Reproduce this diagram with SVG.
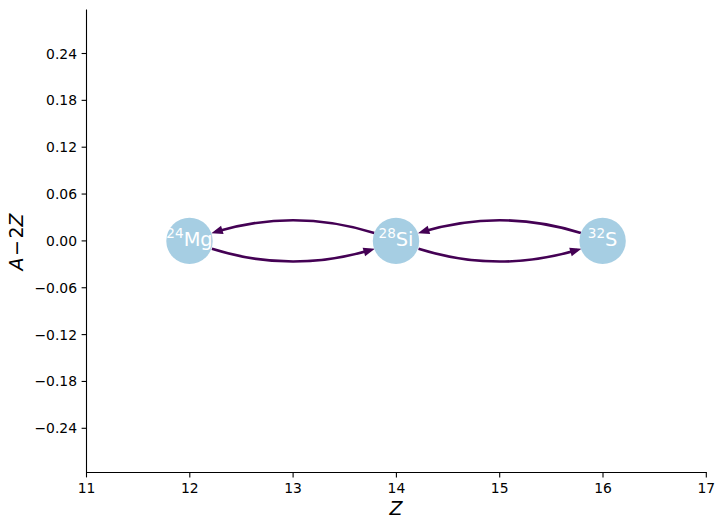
<svg xmlns="http://www.w3.org/2000/svg" width="724" height="529" viewBox="0 0 724 529">
<style>
  .spine { stroke: #000; stroke-width: 1.1; fill: none; stroke-linecap: square; }
  .tick { stroke: #000; stroke-width: 1.1; }
  .tl { font-family: "DejaVu Sans", sans-serif; font-size: 13.9px; fill: #000; }
  .ax { font-family: "DejaVu Sans", sans-serif; font-size: 19px; fill: #000; }
  .node circle { fill: #a6cee3; }
  .node text { font-family: "DejaVu Sans", sans-serif; font-size: 19.4px; fill: #fff; text-anchor: middle; }
  .node .sup { font-size: 13.6px; }
  .edge { fill: none; stroke: #440154; stroke-width: 2.6; marker-end: url(#head); }
</style>
<defs>
  <marker id="head" markerUnits="userSpaceOnUse" markerWidth="16" markerHeight="14" viewBox="-2 -7 16 14" refX="6" refY="0" orient="auto">
    <path d="M-1,-4.4 L10.5,0 L-1,4.4 Z" fill="#440154"/>
  </marker>
</defs>
<rect width="724" height="529" fill="#fff"/>

<g id="axes">
  <path class="spine" d="M86.5,10 V472.5 H706.3"/>
  <g id="xticks">
    <line class="tick" x1="86.5" y1="472.5" x2="86.5" y2="477.4"/>
    <line class="tick" x1="189.8" y1="472.5" x2="189.8" y2="477.4"/>
    <line class="tick" x1="293.1" y1="472.5" x2="293.1" y2="477.4"/>
    <line class="tick" x1="396.4" y1="472.5" x2="396.4" y2="477.4"/>
    <line class="tick" x1="499.7" y1="472.5" x2="499.7" y2="477.4"/>
    <line class="tick" x1="603" y1="472.5" x2="603" y2="477.4"/>
    <line class="tick" x1="706.3" y1="472.5" x2="706.3" y2="477.4"/>
    <g class="tl" text-anchor="middle">
      <text x="86.5" y="493.3">11</text>
      <text x="189.8" y="493.3">12</text>
      <text x="293.1" y="493.3">13</text>
      <text x="396.4" y="493.3">14</text>
      <text x="499.7" y="493.3">15</text>
      <text x="603" y="493.3">16</text>
      <text x="706.3" y="493.3">17</text>
    </g>
  </g>
  <g id="yticks">
    <line class="tick" x1="81.6" y1="53.5" x2="86.5" y2="53.5"/>
    <line class="tick" x1="81.6" y1="100.35" x2="86.5" y2="100.35"/>
    <line class="tick" x1="81.6" y1="147.2" x2="86.5" y2="147.2"/>
    <line class="tick" x1="81.6" y1="194.05" x2="86.5" y2="194.05"/>
    <line class="tick" x1="81.6" y1="240.9" x2="86.5" y2="240.9"/>
    <line class="tick" x1="81.6" y1="287.75" x2="86.5" y2="287.75"/>
    <line class="tick" x1="81.6" y1="334.6" x2="86.5" y2="334.6"/>
    <line class="tick" x1="81.6" y1="381.45" x2="86.5" y2="381.45"/>
    <line class="tick" x1="81.6" y1="428.3" x2="86.5" y2="428.3"/>
    <g class="tl" text-anchor="end">
      <text x="77" y="58.5">0.24</text>
      <text x="77" y="105.35">0.18</text>
      <text x="77" y="152.2">0.12</text>
      <text x="77" y="199.05">0.06</text>
      <text x="77" y="245.9">0.00</text>
      <text x="77" y="292.75">−0.06</text>
      <text x="77" y="339.6">−0.12</text>
      <text x="77" y="386.45">−0.18</text>
      <text x="77" y="433.3">−0.24</text>
    </g>
  </g>
  <text class="ax" x="396" y="515" text-anchor="middle" font-style="italic">Z</text>
  <text class="ax" transform="translate(23.3,242) rotate(-90)" text-anchor="middle"><tspan font-style="italic">A</tspan><tspan dx="1.5">−</tspan><tspan dx="1.5">2</tspan><tspan font-style="italic">Z</tspan></text>
</g>

<g id="edges">
  <path class="edge" d="M211.91,248.80 Q291.24,273.74 370.58,249.94"/>
  <path class="edge" d="M374.29,233.00 Q294.96,208.06 215.62,231.86"/>
  <path class="edge" d="M418.51,248.80 Q497.84,273.74 577.18,249.94"/>
  <path class="edge" d="M580.89,233.00 Q501.56,208.06 422.22,231.86"/>
</g>

<g id="node-Mg24" class="node">
  <circle cx="189.5" cy="240.9" r="23.2"/>
  <text x="189.5" y="245.8"><tspan class="sup" dy="-7.4">24</tspan><tspan dy="7.4">Mg</tspan></text>
</g>
<g id="node-Si28" class="node">
  <circle cx="396" cy="240.9" r="23.2"/>
  <text x="396" y="245.8"><tspan class="sup" dy="-7.4">28</tspan><tspan dy="7.4">Si</tspan></text>
</g>
<g id="node-S32" class="node">
  <circle cx="602.6" cy="240.9" r="23.2"/>
  <text x="602.6" y="245.8"><tspan class="sup" dy="-7.4">32</tspan><tspan dy="7.4">S</tspan></text>
</g>
</svg>
